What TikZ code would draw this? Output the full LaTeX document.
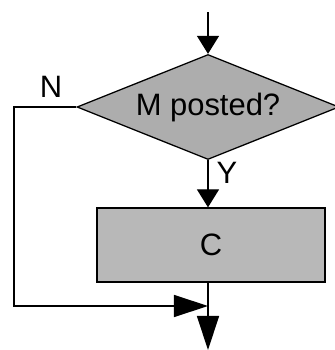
\documentclass[tikz,border=0pt]{standalone}
\usepackage{fontspec}
\setmainfont{Liberation Sans}
\usetikzlibrary{shapes.geometric, arrows.meta}

\begin{document}
\begin{tikzpicture}[x=0.025cm, y=-0.025cm, line width=0.9pt,
    >={Triangle[length=0.45cm, width=0.55cm]},
    bigtip/.style={-{Triangle[length=0.85cm, width=0.55cm]}},
    lbl/.style={font=\fontsize{22}{26}\selectfont, inner sep=0pt}]
    \useasboundingbox (0, 0) rectangle (335, 350);
    % decision and process
    \node[diamond, draw, fill=black!32, aspect=2.5, lbl, minimum width=6.55cm, minimum height=2.625cm] (test) at (208, 107) {M posted?};
    \node[rectangle, draw, fill=black!28, lbl, minimum width=5.7cm, minimum height=1.85cm] (action) at (211, 245) {C};
    \coordinate (in) at (208, 12);
    \coordinate (corner) at (14, 107);
    \coordinate (join) at (208, 306);
    \coordinate (out) at (208, 350);
    % branch labels
    \node[lbl] (no) at (51, 87) {N};
    \node[lbl] (yes) at (227, 173) {Y};
    % flow lines
    \draw[->] (in) -- (test.north);
    \draw[->] (test.south) -- (test.south |- action.north);
    \draw[bigtip] (test.west) -- (corner) |- (join);
    \draw (test.south |- action.south) -- (join);
    \draw[bigtip] (join) -- (out);
\end{tikzpicture}
\end{document}
